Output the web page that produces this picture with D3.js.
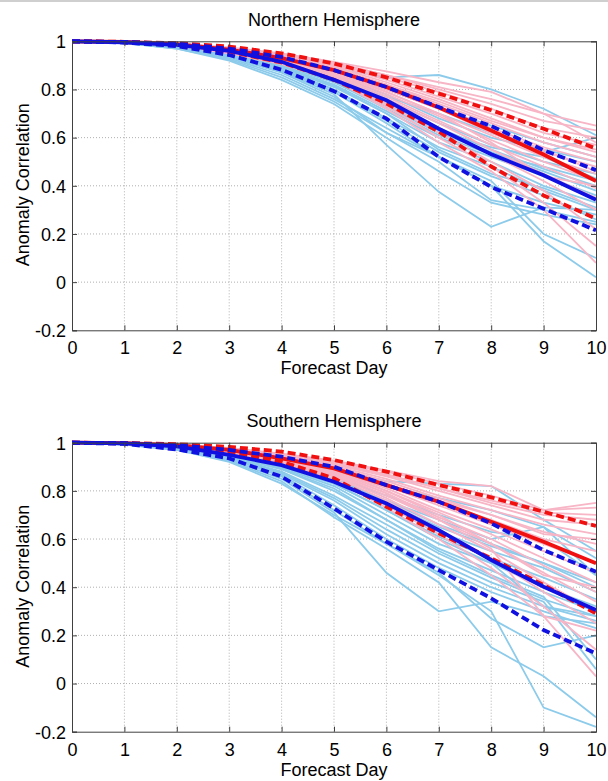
<!DOCTYPE html>
<html><head><meta charset="utf-8">
<script src="https://cdn.jsdelivr.net/npm/d3@7"></script>
<style>body{margin:0;background:#fff}svg{display:block}text{font-family:"Liberation Sans",Arial,sans-serif;fill:#000}</style>
</head><body><svg id="c" width="608" height="781"></svg>
<script>
const days = [0,1,2,3,4,5,6,7,8,9,10];
const xTicks = [0,1,2,3,4,5,6,7,8,9,10];
const yTicks = [-0.2,0,0.2,0.4,0.6,0.8,1];
const yTickLabels = ["-0.2","0","0.2","0.4","0.6","0.8","1"];
const titles = ["Northern Hemisphere","Southern Hemisphere"];
const xLabel = "Forecast Day";
const yLabel = "Anomaly Correlation";

// Northern Hemisphere
const nhBlueMembers = [
[1,.996,.985,.965,.93,.89,.85,.86,.80,.72,.61],
[1,.996,.984,.962,.925,.875,.80,.72,.65,.58,.52],
[1,.995,.982,.958,.915,.86,.78,.68,.60,.55,.50],
[1,.995,.982,.955,.91,.85,.76,.66,.57,.50,.45],
[1,.995,.98,.952,.905,.84,.75,.64,.55,.47,.40],
[1,.995,.98,.95,.90,.83,.73,.62,.54,.46,.38],
[1,.994,.978,.948,.895,.82,.71,.60,.52,.44,.36],
[1,.994,.978,.945,.89,.81,.70,.58,.50,.40,.33],
[1,.994,.977,.942,.885,.80,.68,.56,.48,.38,.30],
[1,.994,.976,.94,.88,.79,.66,.52,.40,.33,.28],
[1,.993,.975,.938,.875,.78,.57,.375,.23,.31,.30],
[1,.993,.974,.935,.87,.77,.62,.50,.34,.30,.25],
[1,.993,.972,.93,.86,.76,.64,.52,.40,.17,.02],
[1,.992,.97,.925,.85,.75,.62,.52,.42,.20,.10],
[1,.992,.97,.92,.84,.74,.60,.46,.33,.28,.24],
[1,.995,.98,.955,.91,.85,.77,.70,.62,.54,.60],
[1,.995,.981,.953,.905,.845,.74,.63,.56,.52,.43],
[1,.994,.979,.95,.90,.83,.72,.61,.53,.48,.42],
[1,.994,.977,.946,.89,.815,.70,.55,.45,.39,.31],
[1,.993,.975,.94,.88,.80,.67,.54,.44,.36,.26]
];
const nhPinkMembers = [
[1,.997,.99,.975,.95,.915,.875,.83,.79,.70,.65],
[1,.997,.99,.973,.945,.91,.86,.80,.74,.67,.63],
[1,.997,.989,.972,.943,.905,.85,.79,.72,.64,.60],
[1,.997,.989,.97,.94,.90,.84,.77,.70,.62,.57],
[1,.997,.988,.968,.937,.895,.83,.76,.68,.60,.54],
[1,.997,.988,.967,.935,.89,.82,.74,.66,.58,.52],
[1,.996,.987,.965,.93,.885,.81,.73,.64,.56,.50],
[1,.996,.987,.963,.928,.88,.80,.72,.62,.54,.48],
[1,.996,.986,.962,.925,.875,.79,.70,.61,.52,.45],
[1,.996,.986,.96,.922,.87,.78,.69,.59,.50,.42],
[1,.996,.985,.958,.92,.865,.77,.67,.57,.48,.39],
[1,.996,.985,.957,.918,.86,.76,.66,.55,.45,.35],
[1,.996,.984,.955,.915,.855,.75,.64,.53,.42,.30],
[1,.995,.984,.953,.912,.85,.74,.62,.50,.38,.22],
[1,.995,.983,.95,.91,.845,.73,.60,.48,.33,.15],
[1,.995,.983,.95,.905,.84,.72,.58,.46,.30,.08],
[1,.997,.99,.972,.945,.91,.86,.81,.76,.70,.58],
[1,.996,.987,.966,.93,.885,.82,.75,.67,.60,.55],
[1,.996,.986,.962,.925,.875,.80,.72,.63,.55,.46],
[1,.996,.985,.96,.92,.87,.79,.70,.58,.44,.40]
];
const nhRedMean  = [1,.997,.988,.965,.93,.88,.81,.725,.63,.53,.42];
const nhRedUpper = [1,.998,.992,.978,.95,.908,.85,.783,.714,.637,.555];
const nhRedLower = [1,.996,.984,.957,.912,.84,.742,.625,.48,.36,.264];
const nhBlueMean  = [1,.996,.985,.96,.915,.84,.755,.637,.531,.444,.342];
const nhBlueUpper = [1,.997,.99,.97,.935,.88,.81,.727,.648,.548,.465];
const nhBlueLower = [1,.995,.98,.943,.882,.793,.679,.52,.395,.305,.215];

// Southern Hemisphere
const shBlueMembers = [
[1,.996,.985,.965,.93,.89,.84,.83,.82,.68,.55],
[1,.996,.984,.962,.925,.88,.82,.77,.72,.65,.52],
[1,.995,.983,.958,.915,.86,.78,.70,.63,.60,.45],
[1,.995,.982,.955,.91,.85,.76,.66,.58,.50,.42],
[1,.995,.981,.952,.905,.84,.74,.63,.55,.48,.38],
[1,.995,.98,.95,.90,.83,.72,.61,.52,.44,.35],
[1,.994,.978,.948,.895,.82,.70,.58,.50,.40,.32],
[1,.994,.978,.945,.89,.80,.68,.56,.47,.38,.30],
[1,.994,.977,.942,.88,.78,.66,.54,.44,.35,.28],
[1,.994,.976,.94,.87,.76,.62,.50,.40,.32,.26],
[1,.993,.975,.938,.865,.74,.60,.48,.38,.30,.23],
[1,.993,.974,.935,.86,.72,.58,.46,.27,.15,.20],
[1,.993,.972,.93,.85,.71,.46,.30,.34,.28,.25],
[1,.992,.97,.925,.84,.69,.56,.42,.15,.03,-.14],
[1,.992,.97,.92,.83,.70,.58,.45,.30,-.10,-.18],
[1,.995,.98,.955,.91,.85,.76,.68,.60,.65,.45],
[1,.995,.981,.953,.905,.845,.75,.65,.57,.50,.40],
[1,.994,.979,.95,.90,.83,.72,.60,.50,.32,.28],
[1,.994,.977,.946,.89,.81,.68,.55,.45,.36,.10],
[1,.993,.975,.94,.875,.77,.64,.52,.42,.34,.06]
];
const shPinkMembers = [
[1,.997,.992,.978,.955,.925,.885,.84,.82,.72,.75],
[1,.997,.991,.976,.952,.92,.88,.83,.78,.72,.73],
[1,.997,.99,.975,.95,.915,.87,.81,.76,.71,.70],
[1,.997,.99,.974,.947,.91,.86,.80,.74,.68,.66],
[1,.997,.989,.972,.944,.905,.85,.78,.72,.66,.62],
[1,.997,.989,.97,.94,.90,.84,.77,.70,.63,.58],
[1,.996,.988,.968,.937,.895,.83,.75,.68,.60,.55],
[1,.996,.988,.966,.934,.89,.82,.74,.66,.58,.50],
[1,.996,.987,.964,.93,.885,.81,.72,.64,.55,.46],
[1,.996,.987,.962,.927,.88,.80,.71,.62,.52,.42],
[1,.996,.986,.96,.924,.875,.79,.69,.60,.49,.38],
[1,.996,.986,.958,.92,.87,.78,.68,.58,.46,.34],
[1,.996,.985,.956,.916,.865,.77,.66,.55,.42,.30],
[1,.995,.985,.954,.912,.86,.76,.64,.52,.38,.25],
[1,.995,.984,.952,.908,.85,.74,.62,.48,.32,.14],
[1,.995,.984,.95,.905,.845,.73,.60,.45,.28,.03],
[1,.997,.99,.973,.948,.912,.865,.81,.75,.70,.68],
[1,.996,.988,.967,.935,.89,.83,.76,.70,.62,.60],
[1,.996,.987,.963,.93,.885,.80,.70,.58,.45,.40],
[1,.996,.986,.96,.925,.875,.79,.68,.56,.28,.22]
];
const shRedMean  = [1,.998,.99,.97,.935,.893,.824,.755,.672,.589,.499];
const shRedUpper = [1,.999,.994,.983,.963,.928,.88,.824,.773,.713,.654];
const shRedLower = [1,.997,.988,.963,.921,.852,.734,.624,.52,.409,.291];
const shBlueMean  = [1,.997,.985,.949,.907,.838,.748,.637,.513,.402,.305];
const shBlueUpper = [1,.998,.99,.97,.942,.90,.824,.755,.665,.554,.464];
const shBlueLower = [1,.995,.972,.935,.859,.727,.589,.471,.354,.222,.125];

const panels = [
  {top:41.3, blue:nhBlueMembers, pink:nhPinkMembers, rm:nhRedMean, ru:nhRedUpper, rl:nhRedLower, bm:nhBlueMean, bu:nhBlueUpper, bl:nhBlueLower},
  {top:442.7, blue:shBlueMembers, pink:shPinkMembers, rm:shRedMean, ru:shRedUpper, rl:shRedLower, bm:shBlueMean, bu:shBlueUpper, bl:shBlueLower}
];

const svg = d3.select("#c");
svg.append("line").attr("x1",0).attr("x2",608).attr("y1",1).attr("y2",1).attr("stroke","#cfcfcf").attr("stroke-width",2);

const left = 72, right = 596, ph = 289;
const x = d3.scaleLinear().domain([0,10]).range([left,right]);

panels.forEach((p,i)=>{
  const y = d3.scaleLinear().domain([-0.2,1]).range([p.top+ph, p.top]);
  const g = svg.append("g");
  g.selectAll(".gx").data(xTicks.slice(1,-1)).join("line")
    .attr("x1",d=>x(d)).attr("x2",d=>x(d)).attr("y1",p.top).attr("y2",p.top+ph)
    .attr("stroke","#b0b0b0").attr("stroke-width",1).attr("stroke-dasharray","1,2");
  g.selectAll(".gy").data(yTicks.slice(1,-1)).join("line")
    .attr("y1",d=>y(d)).attr("y2",d=>y(d)).attr("x1",left).attr("x2",right)
    .attr("stroke","#b0b0b0").attr("stroke-width",1).attr("stroke-dasharray","1,2");

  const line = d3.line().x((d,j)=>x(days[j])).y(d=>y(d));
  const clipId = "clip"+i;
  svg.append("clipPath").attr("id",clipId).append("rect").attr("x",left).attr("y",p.top-3).attr("width",right-left+1).attr("height",ph+3);
  const lg = g.append("g").attr("clip-path",`url(#${clipId})`);
  lg.selectAll(".bmem").data(p.blue).join("path").attr("d",line)
    .attr("fill","none").attr("stroke","#8dcbeb").attr("stroke-width",1.8);
  lg.selectAll(".pmem").data(p.pink).join("path").attr("d",line)
    .attr("fill","none").attr("stroke","#f7b5c6").attr("stroke-width",1.8);
  const main = [
    {d:p.ru,c:"#f01010",dash:"8,4"},
    {d:p.rl,c:"#f01010",dash:"8,4"},
    {d:p.rm,c:"#f01010",dash:null},
    {d:p.bu,c:"#1010e0",dash:"8,4"},
    {d:p.bl,c:"#1010e0",dash:"8,4"},
    {d:p.bm,c:"#1010e0",dash:null}
  ];
  main.forEach(m=>{
    lg.append("path").attr("d",line(m.d)).attr("fill","none").attr("stroke",m.c)
      .attr("stroke-width",3.8).attr("stroke-dasharray",m.dash);
  });

  const axB = d3.axisBottom(x).tickValues(xTicks).tickSize(-5).tickPadding(10).tickFormat(d3.format("d"));
  const axL = d3.axisLeft(y).tickValues(yTicks).tickSize(-5).tickPadding(6).tickFormat((d,k)=>yTickLabels[k]);
  const axT = d3.axisTop(x).tickValues(xTicks).tickSize(-5).tickFormat("");
  const axR = d3.axisRight(y).tickValues(yTicks).tickSize(-5).tickFormat("");
  const gb = g.append("g").attr("transform",`translate(0,${p.top+ph})`).call(axB);
  const gl = g.append("g").attr("transform",`translate(${left},0)`).call(axL);
  g.append("g").attr("transform",`translate(0,${p.top})`).call(axT);
  g.append("g").attr("transform",`translate(${right},0)`).call(axR);
  g.selectAll(".domain").attr("stroke","#404040");
  g.selectAll(".tick line").attr("stroke","#404040");
  g.selectAll(".tick text").attr("font-size",18).attr("font-family","Liberation Sans, Arial, sans-serif").attr("fill","#000");
  gb.selectAll(".tick text").attr("dy",null).attr("y",24).attr("dominant-baseline","auto");
  gl.selectAll(".tick text").attr("dy","0.35em");

  g.append("text").attr("x",(left+right)/2).attr("y",p.top-15.5).attr("text-anchor","middle")
    .attr("font-size",18).text(titles[i]);
  g.append("text").attr("x",(left+right)/2).attr("y",p.top+ph+44).attr("text-anchor","middle")
    .attr("font-size",18).text(xLabel);
  g.append("text").attr("transform",`translate(28.5,${p.top+ph/2-1}) rotate(-90)`).attr("text-anchor","middle")
    .attr("font-size",18).text(yLabel);
});
</script></body></html>
